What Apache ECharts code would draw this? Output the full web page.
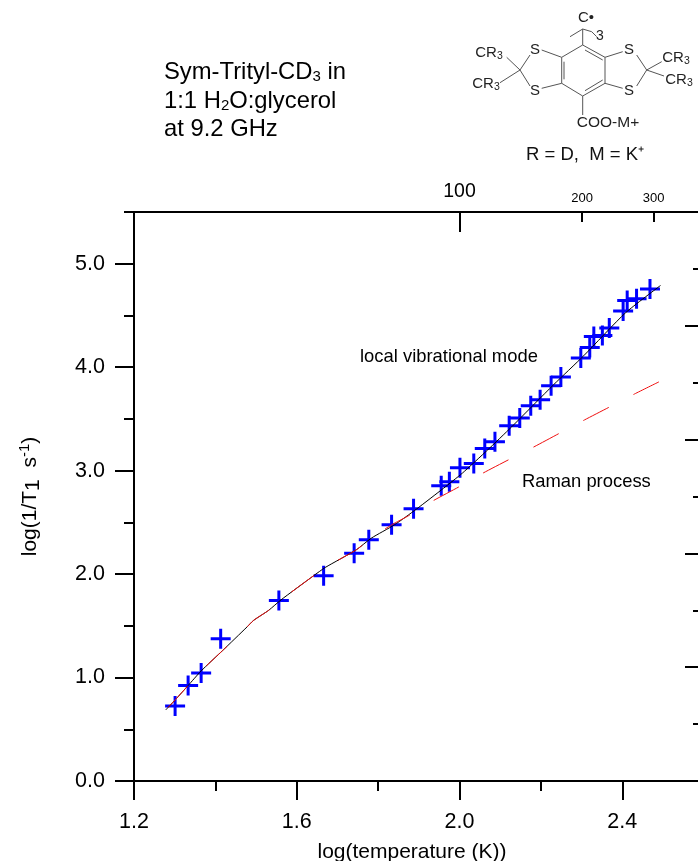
<!DOCTYPE html>
<html>
<head>
<meta charset="utf-8">
<script src="https://cdn.jsdelivr.net/npm/echarts@6/dist/echarts.min.js"></script>
<style>html,body{margin:0;padding:0;background:#fff}#c{width:698px;height:861px}</style>
</head>
<body>
<div id="c"></div>
<script>
// Measured points
const logT = [1.301,1.333,1.365,1.413,1.556,1.666,1.741,1.777,1.833,1.887,1.955,1.975,2.001,2.035,2.062,2.087,2.122,2.148,2.175,2.198,2.225,2.249,2.298,2.32,2.33,2.351,2.368,2.402,2.412,2.435,2.468];
const logRate = [0.725,0.922,1.044,1.376,1.744,1.985,2.202,2.331,2.476,2.631,2.853,2.892,3.027,3.069,3.214,3.279,3.433,3.508,3.627,3.685,3.82,3.904,4.088,4.19,4.297,4.307,4.378,4.543,4.645,4.662,4.755];
// Total fit curve
const fitX = [1.278,1.301,1.333,1.365,1.418,1.478,1.494,1.531,1.561,1.641,1.670,1.746,1.783,1.840,1.894,1.961,2.007,2.069,2.128,2.231,2.305,2.408,2.494];
const fitY = [0.687,0.783,0.923,1.064,1.262,1.490,1.553,1.650,1.750,1.983,2.064,2.234,2.347,2.476,2.628,2.831,2.976,3.200,3.423,3.830,4.110,4.526,4.790];
// Raman process curve
const ramanX = [1.278,1.301,1.333,1.365,1.418,1.478,1.494,1.531,1.561,1.641,1.670,1.746,1.783,1.833,1.875,1.936,1.998,2.058,2.120,2.183,2.245,2.307,2.369,2.430,2.490];
const ramanY = [0.687,0.783,0.923,1.064,1.262,1.490,1.553,1.650,1.750,1.983,2.064,2.234,2.347,2.476,2.565,2.711,2.842,2.977,3.104,3.230,3.360,3.490,3.616,3.741,3.858];
// Axis ticks
const xMajor = [1.2,1.6,2.0,2.4];
const xMinor = [1.4,1.8,2.2];
const yMajor = [0,1,2,3,4,5];
const yMinor = [0.5,1.5,2.5,3.5,4.5,5.5];
const topMajorT = [100];
const topMinorT = [200,300];
const xRange = [1.2,2.586];
const yRange = [0,5.5];

const FF = '"Liberation Sans", Arial, sans-serif';
const AX = {color:'#000',width:2};
const plus = 'path://M8.5 0h3v8.5h8.5v3h-8.5v8.5h-3v-8.5h-8.5v-3h8.5z';

function xAxisBase(pos, ticks, len, inside, extra){
  return Object.assign({
    type:'value', position:pos, min:xRange[0], max:xRange[1],
    splitLine:{show:false},
    axisLine:{show:true,onZero:false,lineStyle:AX},
    axisTick:{show:true,length:len,inside:inside,customValues:ticks,lineStyle:AX},
    axisLabel:{show:false}
  },extra||{});
}
function yAxisBase(ticks,len,extra){
  return Object.assign({
    type:'value', position:'left', min:yRange[0], max:yRange[1],
    splitLine:{show:false},
    axisLine:{show:true,onZero:false,lineStyle:AX},
    axisTick:{show:true,length:len,customValues:ticks,lineStyle:AX},
    axisLabel:{show:false}
  },extra||{});
}
const topMajorVals = topMajorT.map(Math.log10), topMinorVals = topMinorT.map(Math.log10);
const fmtT = v => String(Math.round(Math.pow(10,v)));

// Molecule sketch (page pixels)
const P = {top:[582.7,45],ur:[605,57.3],lr:[605,83.3],bot:[582.7,96],ll:[561.7,83.3],ul:[561.7,57.3],
  cl:[520,70],cr:[646.7,70]};
const bonds = [
 [P.top,P.ur],[P.ur,P.lr],[P.lr,P.bot],[P.bot,P.ll],[P.ll,P.ul],[P.ul,P.top],
 [[564,61.7],[564,79.3]],[[585,50],[602.7,60]],[[585,90.7],[602.7,80]],
 [P.top,[582.7,29]],[P.bot,[582.7,115]],
 [P.ul,[541.7,50]],[P.ll,[541.7,88.3]],[P.ur,[622.7,51.7]],[P.lr,[622.7,88.3]],
 [P.cl,[530,55]],[P.cl,[530,86]],[P.cr,[636.7,55]],[P.cr,[636.7,86]],
 [P.cl,[506.7,57.3]],[P.cl,[500,82.7]],[P.cr,[661.7,61.7]],[P.cr,[664,76]],
 [[570,36.7],[582.7,29]],[[582.7,29],[591.7,31.7]],[[591.7,31.7],[596.7,36.7]]
];
const gfx = bonds.map(b=>({type:'line',silent:true,shape:{x1:b[0][0],y1:b[0][1],x2:b[1][0],y2:b[1][1]},style:{stroke:'#555',lineWidth:1}}));
function txt(x,y,text,size,align,rich,color){
  return {type:'text',silent:true,x:x,y:y,style:{text:text,fontSize:size,fontFamily:FF,fill:color||'#000',align:align||'left',verticalAlign:'middle',rich:rich}};
}
const subT = {s:{fontSize:15,fontFamily:FF,fill:'#000',verticalAlign:'bottom',padding:[10,0,0,0]},a:{fontSize:23.8,fontFamily:FF,fill:'#000'}};
const subMol = {s:{fontSize:10.5,fontFamily:FF,fill:'#222',verticalAlign:'bottom',padding:[6,0,0,0]},a:{fontSize:15,fontFamily:FF,fill:'#222'}};
gfx.push(
 txt(164,72,'{a|Sym-Trityl-CD}{s|3}{a| in}',23.8,'left',subT),
 txt(164,101,'{a|1:1 H}{s|2}{a|O:glycerol}',23.8,'left',subT),
 txt(164,129,'at 9.2 GHz',23.8,'left'),
 txt(360,357,'local vibrational mode',18.4,'left'),
 txt(522,482,'Raman process',18.4,'left'),
 txt(586,18,'C•',15,'center',null,'#222'),
 txt(600,36,'3',14,'center',null,'#222'),
 txt(489,53,'{a|CR}{s|3}',15,'center',subMol),
 txt(486,84,'{a|CR}{s|3}',15,'center',subMol),
 txt(676,58,'{a|CR}{s|3}',15,'center',subMol),
 txt(679,80,'{a|CR}{s|3}',15,'center',subMol),
 txt(535,50,'S',15,'center',null,'#222'),
 txt(535,91,'S',15,'center',null,'#222'),
 txt(629,50,'S',15,'center',null,'#222'),
 txt(629,91,'S',15,'center',null,'#222'),
 txt(608,123,'COO-M+',15.5,'center',null,'#222'),
 txt(585,155,'R = D,  M = K⁺',18.5,'center',null,'#111')
);

const chart = echarts.init(document.getElementById('c'),null,{renderer:'canvas'});
chart.setOption({
  animation:false,
  backgroundColor:'#fff',
  grid:{left:134,right:0,top:212,bottom:80,containLabel:false,outerBoundsMode:'none'},
  xAxis:[
    xAxisBase('bottom',xMajor,19,false,{
      name:'log(temperature (K))',nameLocation:'middle',nameGap:61,
      nameTextStyle:{fontSize:21,fontFamily:FF,color:'#000',padding:[0,8,0,0]},
      axisLabel:{show:true,customValues:xMajor,fontSize:21.5,fontFamily:FF,color:'#000',margin:30,formatter:v=>v.toFixed(1)}
    }),
    xAxisBase('bottom',xMinor,10,false),
    xAxisBase('top',topMajorVals,20,true,{
      axisLabel:{show:true,customValues:topMajorVals,fontSize:19.5,fontFamily:FF,color:'#000',margin:10,formatter:fmtT}
    }),
    xAxisBase('top',topMinorVals,10,true,{
      axisLabel:{show:true,customValues:topMinorVals,fontSize:13,fontFamily:FF,color:'#000',margin:7.5,formatter:fmtT}
    })
  ],
  yAxis:[
    yAxisBase(yMajor,19,{
      name:'{a|log(1/T}{s|1}{a|  s}{u|-1}{a|)}',nameLocation:'middle',nameGap:90,nameRotate:90,
      nameTextStyle:{rich:{
        a:{fontSize:21,fontFamily:FF,color:'#000'},
        s:{fontSize:21,fontFamily:FF,color:'#000',verticalAlign:'bottom',padding:[6,0,0,0]},
        u:{fontSize:15,fontFamily:FF,color:'#000',verticalAlign:'top',padding:[0,0,8,0]}
      }},
      axisLabel:{show:true,customValues:yMajor,fontSize:21.5,fontFamily:FF,color:'#000',margin:29,formatter:v=>v.toFixed(1)}
    }),
    yAxisBase(yMinor,10),
    {type:'value',position:'right',min:0,max:5,interval:1,
     splitLine:{show:false},axisLine:{show:false},axisLabel:{show:false},
     axisTick:{show:true,inside:true,length:13,lineStyle:AX},
     minorTick:{show:false}},
    {type:'value',position:'right',min:0,max:5,
     splitLine:{show:false},axisLine:{show:false},axisLabel:{show:false},
     axisTick:{show:true,inside:true,length:5,customValues:[0.5,1.5,2.5,3.5,4.5],lineStyle:AX}}
  ],
  series:[
    {type:'scatter',name:'data',data:logT.map((x,i)=>[x,logRate[i]]),symbol:plus,symbolSize:20,
     itemStyle:{color:'#0000ff',opacity:1},z:3},
    {type:'line',name:'total',data:fitX.map((x,i)=>[x,fitY[i]]),showSymbol:false,smooth:0.2,
     lineStyle:{color:'#000',width:1},z:4},
    {type:'line',name:'Raman',data:ramanX.map((x,i)=>[x,ramanY[i]]),showSymbol:false,smooth:0.2,
     lineStyle:{color:'#f01010',width:1,type:[28.6,27.9],dashOffset:-3.4},z:5}
  ],
  graphic:gfx
});
</script>
</body>
</html>
